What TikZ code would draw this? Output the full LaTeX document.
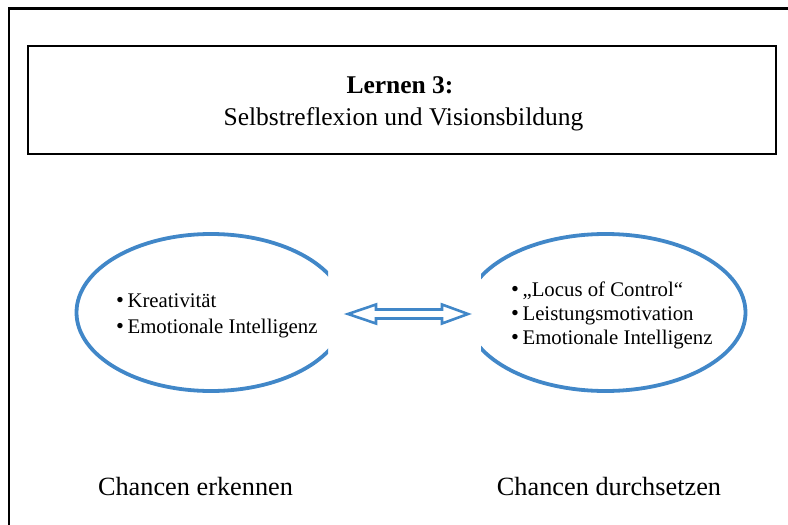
\documentclass[tikz,border=0pt]{standalone}
\usepackage{fontspec}
\setmainfont{Liberation Serif}
\usetikzlibrary{shapes.geometric}
\definecolor{ellblue}{RGB}{65,135,200}
\newcommand{\itembul}{\raisebox{-0.4pt}{\fontsize{22.5}{24}\selectfont•}\,}
\tikzset{
  frameline/.style={line width=2.6pt, draw=black},
  titlebox/.style={line width=2pt, draw=black},
  ellshape/.style={ellipse, draw=ellblue, line width=3.8pt, inner sep=0pt},
  dblarrow/.style={draw=ellblue, line width=2.6pt, line join=miter},
  bigtext/.style={font=\fontsize{25.5}{30}\selectfont, inner sep=0pt},
  labtext/.style={font=\fontsize{26.3}{30}\selectfont, inner sep=0pt, anchor=base},
  itemtext/.style={font=\fontsize{20.8}{24}\selectfont, inner sep=0pt, anchor=base west},
}
\begin{document}
\begin{tikzpicture}[x=1pt, y=-1pt]
\useasboundingbox (0,0) rectangle (788,525);
\clip (0,0) rectangle (788,525);
% outer frame (open to the right and bottom)
\coordinate (fb) at (9,540);
\coordinate (ftl) at (9,8.5);
\coordinate (fr) at (800,8.5);
\draw[frameline] (fb) -- (ftl) -- (fr);
% title box
\node[titlebox, rectangle, minimum width=748pt, minimum height=108pt, inner sep=0pt] (title) at (402.25,100) {};
\node[bigtext, anchor=base, font=\fontsize{25.5}{30}\selectfont\bfseries] (t1) at (400,93) {Lernen 3:};
\node[bigtext, anchor=base] (t2) at (403.5,125) {Selbstreflexion und Visionsbildung};
% left ellipse (clipped on the right)
\begin{scope}
\clip (0,200) rectangle (328,420);
\node[ellshape, minimum width=269pt, minimum height=157pt] (le) at (211,312.5) {};
\end{scope}
% right ellipse (clipped on the left)
\begin{scope}
\clip (481,200) rectangle (788,420);
\node[ellshape, minimum width=280pt, minimum height=157pt] (re) at (605.5,312.5) {};
\end{scope}
% items
\node[itemtext] (l1) at (116,307) {\itembul Kreativität};
\node[itemtext] (l2) at (116,333) {\itembul Emotionale Intelligenz};
\node[itemtext] (r1) at (511,296) {\itembul „Locus of Control“};
\node[itemtext] (r2) at (511,320) {\itembul Leistungsmotivation};
\node[itemtext] (r3) at (511,344) {\itembul Emotionale Intelligenz};
% double arrow
\draw[dblarrow] (348,314) -- (376,304.5) -- (376,309.5) -- (442,309.5) -- (442,304.5)
  -- (468,314) -- (442,323.5) -- (442,318.5) -- (376,318.5) -- (376,323.5) -- cycle;
% bottom labels
\node[labtext] (c1) at (195.5,495) {Chancen erkennen};
\node[labtext] (c2) at (609,495) {Chancen durchsetzen};
\end{tikzpicture}
\end{document}
